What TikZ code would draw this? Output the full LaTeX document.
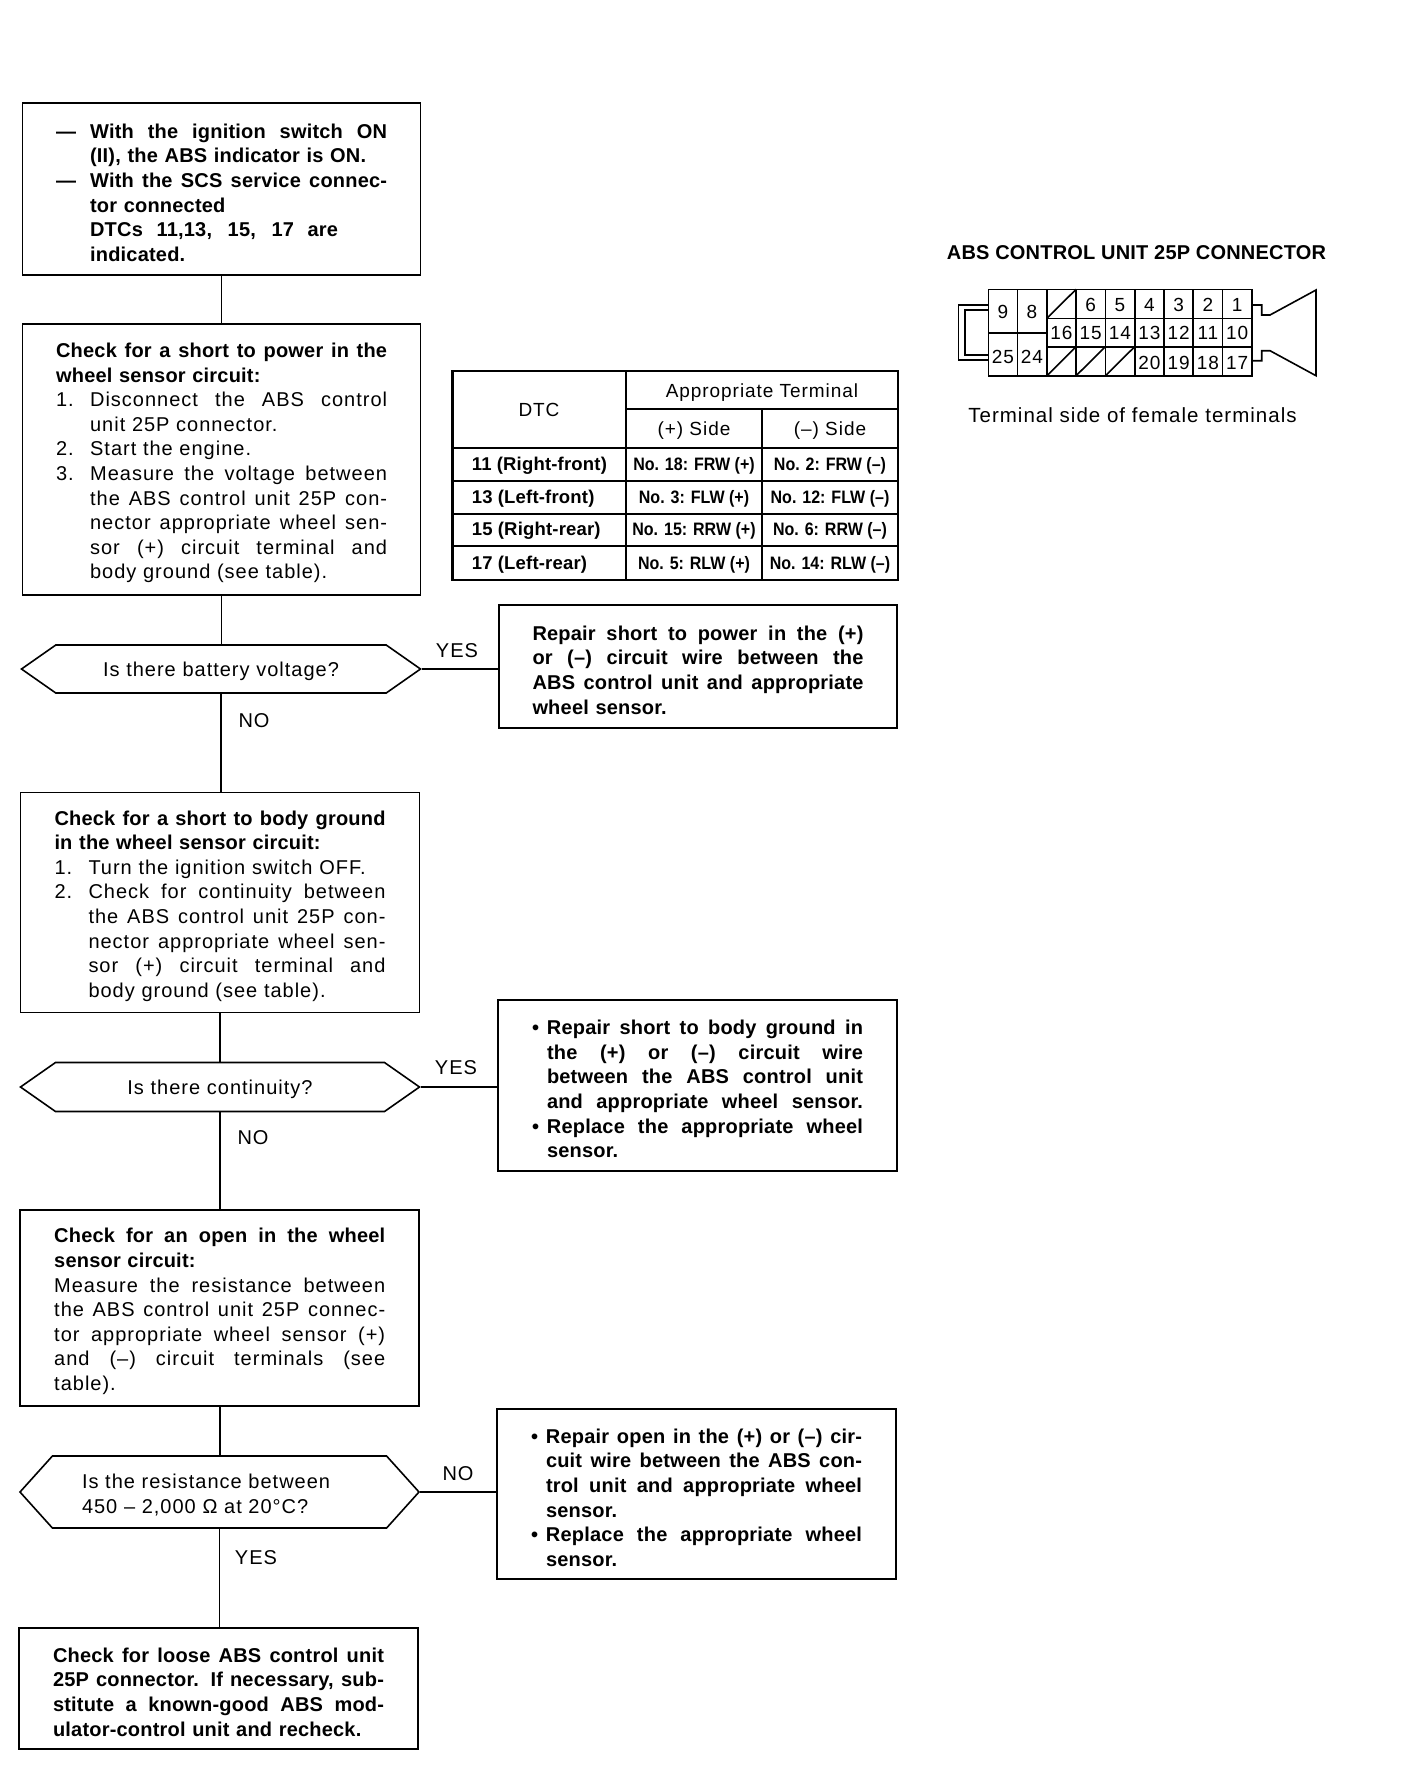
\documentclass[tikz,border=0pt]{standalone}
\usepackage{fontspec}
\setmainfont{Liberation Sans}[LetterSpace=5,BoldFeatures={LetterSpace=1}]
\newfontfamily\datafont{Liberation Sans}[FakeStretch=0.89]
\usetikzlibrary{shapes.symbols}

\newcommand{\jline}[1]{\par\hbox to \hsize{\spaceskip=0pt\xspaceskip=0pt #1}}
\newcommand{\pline}[1]{\par\hbox{#1}}
\newcommand{\jitem}[2]{\par\hbox to \hsize{\spaceskip=0pt\xspaceskip=0pt \hbox to 34pt{#1\hss}#2}}
\newcommand{\pitem}[2]{\par\hbox{\hbox to 34pt{#1\hss}#2}}
\newcommand{\jbull}[2]{\par\hbox to \hsize{\spaceskip=0pt\xspaceskip=0pt \hbox to 15pt{#1\hss}#2}}
\newcommand{\pbull}[2]{\par\hbox{\hbox to 15pt{#1\hss}#2}}

\tikzset{
    drop/.style={execute at begin node={\vspace*{#1}}},
    body/.style={font=\fontsize{20}{24.6}\selectfont},
    flowbox/.style={body, drop=-3pt, draw, line width=1.6pt, rectangle, inner sep=0pt, text width=331pt},
    decision/.style={body, draw, line width=1.6pt, shape=signal, signal to=west and east, inner sep=0pt},
    answer/.style={font=\fontsize{20}{24}\selectfont, inner sep=0pt},
    link/.style={line width=1.6pt},
    cell/.style={font=\fontsize{19}{22}\selectfont, inner sep=0pt},
    dtccell/.style={font=\fontsize{18.5}{22}\selectfont\bfseries, inner sep=0pt, anchor=west},
    datacell/.style={font=\fontsize{18}{22}\selectfont\datafont\bfseries, inner sep=0pt},
    pin/.style={font=\fontsize{19}{22}\selectfont, inner sep=0pt},
    wall/.style={line width=1.6pt},
    heavy/.style={line width=2.6pt}
}

\begin{document}
\begin{tikzpicture}[x=1pt,y=-1pt]
        \useasboundingbox (0,0) rectangle (1408,1778);

        \node[flowbox, minimum width=398pt, minimum height=172pt] (cond) at (221.6,189) {\bfseries
                \jitem{---}{With the ignition switch ON}
                \pitem{}{(II), the ABS indicator is ON.}
                \jitem{---}{With the SCS service connec-}
                \pitem{}{tor connected}
                \par\hbox{\hbox to 34pt{}\hbox to 248pt{\spaceskip=0pt\xspaceskip=0pt DTCs 11,13, 15, 17 are}}
                \pitem{}{indicated.}};
        \node[flowbox, minimum width=398pt, minimum height=271pt] (power) at (221.6,459.5) {\bfseries
                \jline{Check for a short to power in the}
                \pline{wheel sensor circuit:}\mdseries
                \jitem{1.}{Disconnect the ABS control}
                \pitem{}{unit 25P connector.}
                \pitem{2.}{Start the engine.}
                \jitem{3.}{Measure the voltage between}
                \jitem{}{the ABS control unit 25P con-}
                \jitem{}{nector appropriate wheel sen-}
                \jitem{}{sor (+) circuit terminal and}
                \pitem{}{body ground (see table).}};
        \node[decision, drop=-6pt, text width=240pt, align=center, minimum width=399pt, minimum height=48pt, signal pointer angle=70] (battery) at (221,669) {Is there battery voltage?};
        \node[flowbox, minimum width=398pt, minimum height=123pt] (fixpower) at (698,666.5) {\bfseries
                \jline{Repair short to power in the (+)}
                \jline{or (--) circuit wire between the}
                \jline{ABS control unit and appropriate}
                \pline{wheel sensor.}};
        \node[flowbox, minimum width=399pt, minimum height=220pt] (ground) at (220,902.5) {\bfseries
                \jline{Check for a short to body ground}
                \pline{in the wheel sensor circuit:}\mdseries
                \pitem{1.}{Turn the ignition switch OFF.}
                \jitem{2.}{Check for continuity between}
                \jitem{}{the ABS control unit 25P con-}
                \jitem{}{nector appropriate wheel sen-}
                \jitem{}{sor (+) circuit terminal and}
                \pitem{}{body ground (see table).}};
        \node[decision, drop=-6pt, text width=240pt, align=center, minimum width=399pt, minimum height=49pt, signal pointer angle=70] (contin) at (220,1087) {Is there continuity?};
        \node[flowbox, minimum width=399pt, minimum height=171pt] (fixground) at (697.5,1085.5) {\bfseries
                \jbull{•}{Repair short to body ground in}
                \jbull{}{the (+) or (--) circuit wire}
                \jbull{}{between the ABS control unit}
                \jbull{}{and appropriate wheel sensor.}
                \jbull{•}{Replace the appropriate wheel}
                \pbull{}{sensor.}};
        \node[flowbox, minimum width=399pt, minimum height=196pt] (open) at (219.7,1308) {\bfseries
                \jline{Check for an open in the wheel}
                \pline{sensor circuit:}\mdseries
                \jline{Measure the resistance between}
                \jline{the ABS control unit 25P connec-}
                \jline{tor appropriate wheel sensor (+)}
                \jline{and (--) circuit terminals (see}
                \pline{table).}};
        \node[decision, drop=-4pt, text width=275pt, minimum width=399pt, minimum height=72pt, signal pointer angle=96] (resist) at (219.5,1492) {%
                \pline{Is the resistance between}
                \pline{450 -- 2,000 Ω at 20°C?}};
        \node[flowbox, minimum width=399pt, minimum height=170pt] (fixopen) at (696.5,1494) {\bfseries
                \jbull{•}{Repair open in the (+) or (--) cir-}
                \jbull{}{cuit wire between the ABS con-}
                \jbull{}{trol unit and appropriate wheel}
                \pbull{}{sensor.}
                \jbull{•}{Replace the appropriate wheel}
                \pbull{}{sensor.}};
        \node[flowbox, minimum width=399pt, minimum height=121pt] (loose) at (218.5,1688.5) {\bfseries
                \jline{Check for loose ABS control unit}
                \jline{25P connector. If necessary, sub-}
                \jline{stitute a known-good ABS mod-}
                \pline{ulator-control unit and recheck.}};

        \draw[link] (cond.south) -- (cond.south |- power.north);
        \draw[link] (power.south) -- (power.south |- battery.north);
        \draw[link] (battery.south) -- (battery.south |- ground.north);
        \draw[link] (ground.south) -- (ground.south |- contin.north);
        \draw[link] (contin.south) -- (contin.south |- open.north);
        \draw[link] (open.south) -- (open.south |- resist.north);
        \draw[link] (resist.south) -- (resist.south |- loose.north);
        \draw[link] (battery.east) -- (battery.east -| fixpower.west);
        \draw[link] (contin.east) -- (contin.east -| fixground.west);
        \draw[link] (resist.east) -- (resist.east -| fixopen.west);

        \node[answer] (yes1) at (457,651) {YES};
        \node[answer] (no1) at (254,721) {NO};
        \node[answer] (yes2) at (456,1068) {YES};
        \node[answer] (no2) at (253,1138) {NO};
        \node[answer] (no3) at (458,1474) {NO};
        \node[answer] (yes3) at (256,1558) {YES};

        \draw[heavy] (452.7,371) rectangle (898,580);
        \draw[wall] (626,371) -- (626,580);
        \draw[wall] (762,409) -- (762,580);
        \draw[wall] (626,409) -- (898,409);
        \foreach \ypos in {448,481,514,546}
                \draw[wall] (452.7,\ypos) -- (898,\ypos);

        \node[cell] (dtchead) at (539,410) {DTC};
        \node[cell] (termhead) at (762,393) {Appropriate Terminal};
        \node[cell] (plushead) at (694,431) {(+) Side};
        \node[cell] (minushead) at (830,431) {(--) Side};
        \foreach \row/\ypos/\dtc/\plus/\minus in {
                a/465.5/11 (Right-front)/No. 18: FRW (+)/No. 2: FRW (–),
                b/498.5/13 (Left-front)/No. 3: FLW (+)/No. 12: FLW (–),
                c/531/15 (Right-rear)/No. 15: RRW (+)/No. 6: RRW (–),
                d/564.5/17 (Left-rear)/No. 5: RLW (+)/No. 14: RLW (–)} {
                \node[dtccell] (dtc\row) at (471.6,\ypos) {\dtc};
                \node[datacell] (plus\row) at (694,\ypos) {\plus};
                \node[datacell] (minus\row) at (830,\ypos) {\minus};
        }

        \node[font=\fontsize{20}{24}\selectfont\bfseries, inner sep=0pt] (conntitle) at (1136.5,253) {ABS CONTROL UNIT 25P CONNECTOR};
        \node[font=\fontsize{20.5}{24}\selectfont, inner sep=0pt] (conncaption) at (1132.5,415) {Terminal side of female terminals};

        \draw[wall] (988.3,289.3) rectangle (1251.7,375.7);
        \foreach \xpos in {1017.6,1046.9,1076.1,1105.4,1134.7,1163.9,1193.2,1222.4}
                \draw[wall] (\xpos,289.3) -- (\xpos,375.7);
        \draw[wall] (988.3,332.7) -- (1046.9,332.7);
        \draw[wall] (1046.9,318.3) -- (1251.7,318.3);
        \draw[wall] (1046.9,346.7) -- (1251.7,346.7);
        \draw[wall] (1046.9,318.3) -- (1076.1,289.3);
        \draw[wall] (1046.9,375.7) -- (1076.1,346.7);
        \draw[wall] (1076.1,375.7) -- (1105.4,346.7);
        \draw[wall] (1105.4,375.7) -- (1134.7,346.7);
        \draw[wall] (988.3,305) -- (958.3,305) -- (958.3,360) -- (988.3,360);
        \draw[wall] (988.3,310) -- (965,310) -- (965,355) -- (988.3,355);
        \draw[wall] (1251.7,305) -- (1261.7,305) -- (1261.7,315) -- (1270,315) -- (1316,290) -- (1316,375.7) -- (1270,350.7) -- (1261.7,350.7) -- (1261.7,360.7) -- (1251.7,360.7);

        \node[pin] (pin9) at (1003,312) {9};
        \node[pin] (pin8) at (1032,312) {8};
        \node[pin] (pin25) at (1003,357) {25};
        \node[pin] (pin24) at (1032,357) {24};
        \foreach \num/\col in {6/3,5/4,4/5,3/6,2/7,1/8}
                \node[pin] (pin\num) at ({988.3+(\col+0.5)*29.27},305) {\num};
        \foreach \num/\col in {16/2,15/3,14/4,13/5,12/6,11/7,10/8}
                \node[pin] (pin\num) at ({988.3+(\col+0.5)*29.27},333) {\num};
        \foreach \num/\col in {20/5,19/6,18/7,17/8}
                \node[pin] (pin\num) at ({988.3+(\col+0.5)*29.27},363) {\num};
\end{tikzpicture}
\end{document}
